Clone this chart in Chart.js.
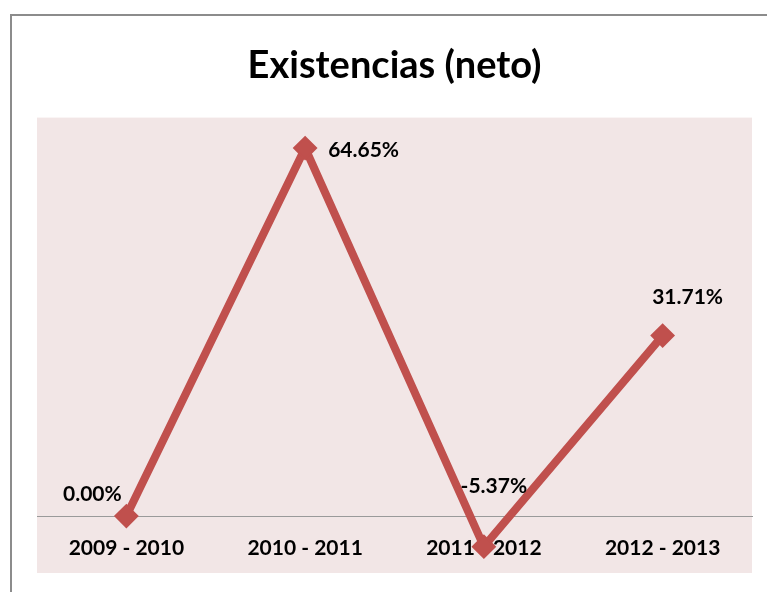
<!DOCTYPE html>
<html>
<head>
<meta charset="utf-8">
<script src="https://cdn.jsdelivr.net/npm/chart.js@4.4.1/dist/chart.umd.min.js"></script>
<style>
  html, body { margin: 0; padding: 0; background: #ffffff; overflow: hidden; }
  #wrap { position: relative; width: 767px; height: 592px; }
  #frame {
    position: absolute; left: 10px; top: 14px; width: 800px; height: 700px;
    border-left: 2px solid #8c8c8c; border-top: 2px solid #8c8c8c; box-sizing: border-box;
  }
  canvas { position: absolute; left: 0; top: 0; }
</style>
</head>
<body>
<div id="wrap">
  <div id="frame"></div>
  <canvas id="chart" width="767" height="592"></canvas>
</div>
<script>
// Year-over-year net change of inventories (%)
const periods = ['2009 - 2010', '2010 - 2011', '2011 - 2012', '2012 - 2013'];
const netChange = [0.00, 64.65, -5.37, 31.71];
const chartTitle = 'Existencias (neto)';
const valueRange = { min: -10, max: 70 };

const FONT = 'Lato, "Open Sans", sans-serif';

// Fill the plot area with the soft rose background
const plotBackground = {
  id: 'plotBackground',
  beforeDraw(chart, args, opts) {
    const { ctx, chartArea: a } = chart;
    ctx.save();
    ctx.fillStyle = opts.color;
    ctx.fillRect(a.left, a.top, a.right - a.left, a.bottom - a.top);
    ctx.restore();
  }
};

// Percentage labels next to each marker
const pointLabels = {
  id: 'pointLabels',
  afterDatasetsDraw(chart, args, opts) {
    const { ctx } = chart;
    const meta = chart.getDatasetMeta(0);
    const values = chart.data.datasets[0].data;
    ctx.save();
    ctx.font = opts.font;
    ctx.fillStyle = opts.color;
    ctx.textBaseline = 'middle';
    meta.data.forEach((pt, i) => {
      const place = opts.placement[i];
      ctx.textAlign = place.align;
      ctx.fillText(values[i].toFixed(2) + '%', pt.x + place.dx, pt.y + place.dy);
    });
    ctx.restore();
  }
};

new Chart(document.getElementById('chart'), {
  type: 'line',
  data: {
    labels: periods,
    datasets: [{
      data: netChange,
      borderColor: '#C0504D',
      backgroundColor: '#C0504D',
      borderWidth: 8,
      tension: 0,
      pointStyle: 'rectRot',
      pointRadius: 11,
      pointHoverRadius: 11,
      pointBorderWidth: 2,
      pointBackgroundColor: '#C0504D',
      pointBorderColor: '#C0504D',
      clip: false
    }]
  },
  options: {
    responsive: false,
    animation: false,
    devicePixelRatio: 1,
    layout: { padding: { top: 0, left: 37, right: 15, bottom: 19 } },
    scales: {
      x: {
        type: 'category',
        offset: true,
        position: { y: 0 },
        afterFit(scale) { scale.height = 0; },
        grid: { display: false, drawTicks: false },
        border: { display: true, color: '#9a9a9a', width: 1 },
        ticks: {
          color: '#000000',
          padding: 20,
          maxRotation: 0,
          autoSkip: false,
          font: { family: FONT, size: 21, weight: 'bold' }
        }
      },
      y: {
        display: false,
        min: valueRange.min,
        max: valueRange.max
      }
    },
    plugins: {
      legend: { display: false },
      tooltip: { enabled: false },
      title: {
        display: true,
        text: chartTitle,
        color: '#000000',
        font: { family: FONT, size: 38, weight: 'bold', lineHeight: 1.2 },
        padding: { top: 43, bottom: 29 }
      },
      plotBackground: { color: '#F2E6E6' },
      pointLabels: {
        font: 'bold 21px ' + FONT,
        color: '#000000',
        placement: [
          { dx: -34, dy: -22, align: 'center' },
          { dx: 23, dy: 2, align: 'left' },
          { dx: 10, dy: -60, align: 'center' },
          { dx: 25, dy: -38, align: 'center' }
        ]
      }
    }
  },
  plugins: [plotBackground, pointLabels]
});
</script>
</body>
</html>
